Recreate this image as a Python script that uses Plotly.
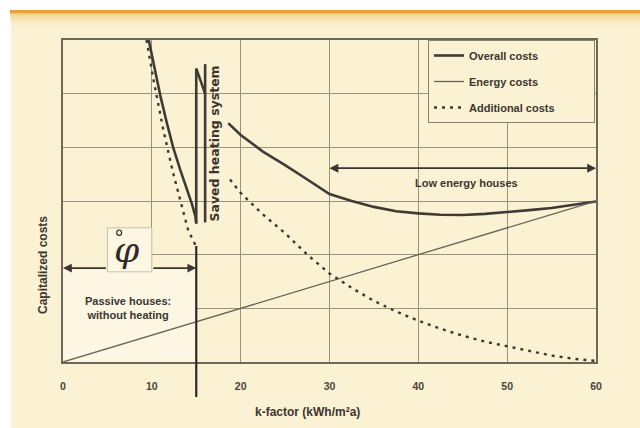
import plotly.graph_objects as go

# ---------------- data ----------------
overall_left_x = [9.65, 10.3, 11.0, 11.7, 12.4, 13.2, 14.0, 14.5, 14.9, 15.0]
overall_left_y = [6.0, 5.45, 4.93, 4.45, 4.0, 3.58, 3.2, 2.95, 2.72, 2.58]
# jump where the heating system is saved ("N" shape)
overall_jump_x = [15.0, 15.0, 16.0, None, 16.0, 16.0]
overall_jump_y = [2.58, 5.47, 5.0, None, 5.55, 2.6]
overall_right_x = [18.6, 20, 22.5, 25, 27.5, 30, 32.5, 35, 37.5, 40, 42.5, 45, 47.5, 50, 52.5, 55, 57.5, 60]
overall_right_y = [4.45, 4.23, 3.92, 3.67, 3.4, 3.13, 3.0, 2.89, 2.81, 2.77, 2.745, 2.74, 2.76, 2.79, 2.83, 2.87, 2.93, 2.99]

energy_x = [0, 60]
energy_y = [0.0, 3.0]

additional_left_x = [9.4, 10.2, 11.3, 12.4, 13.4, 14.1, 14.9]
additional_left_y = [6.0, 5.25, 4.32, 3.52, 2.89, 2.45, 2.18]
additional_right_x = [18.8, 20, 22.5, 25, 27.5, 30, 32.5, 35, 37.5, 40, 42.5, 45, 47.5, 50, 52.5, 55, 57.5, 60]
additional_right_y = [3.4, 3.15, 2.75, 2.4, 2.0, 1.65, 1.38, 1.14, 0.94, 0.77, 0.62, 0.49, 0.38, 0.29, 0.2, 0.12, 0.06, 0.02]

x_ticks = [0, 10, 20, 30, 40, 50, 60]
x_tick_labels = ["0", "10", "20", "30", "40", "50", "60"]
y_grid = [0, 1, 2, 3, 4, 5, 6]

passive_limit = 15
low_energy_start = 30
low_energy_end = 60

# ---------------- styling ----------------
W, H = 640, 428
ML, MR, MT, MB = 63, 44, 40, 66
PW, PH = W - ML - MR, H - MT - MB
BG = "#FBF1D3"
LIGHT = "#FCF6E3"
INK = "#3b3631"
GRID = "#9c937e"
FONT = "Liberation Sans"
NB = "\u00a0"


def px_x(p):
    return (p - ML) / PW


def px_y(p):
    return (H - MB - p) / PH


overall_x = overall_left_x + [None] + overall_jump_x + [None] + overall_right_x
overall_y = overall_left_y + [None] + overall_jump_y + [None] + overall_right_y
additional_x = additional_left_x + [None] + additional_right_x
additional_y = additional_left_y + [None] + additional_right_y

fig = go.Figure()
fig.add_trace(go.Scatter(x=overall_x, y=overall_y, mode="lines", name="Overall costs",
                         legendgroup="a", connectgaps=False,
                         line=dict(color="#403a35", width=2.6)))
fig.add_trace(go.Scatter(x=energy_x, y=energy_y, mode="lines", name="Energy costs",
                         legendgroup="b", line=dict(color="#6a6255", width=1.3)))
fig.add_trace(go.Scatter(x=additional_x, y=additional_y, mode="lines",
                         name="Additional costs" + NB * 11,
                         legendgroup="c", connectgaps=False,
                         line=dict(color="#403a35", width=2.4, dash="3px,5px")))

shapes = []
# page decorations: white left strip / top, orange top bar with fade
shapes.append(dict(type="rect", xref="paper", yref="paper", x0=px_x(0), x1=px_x(11),
                   y0=px_y(H), y1=px_y(0), fillcolor="white", line_width=0, layer="below"))
shapes.append(dict(type="rect", xref="paper", yref="paper", x0=px_x(0), x1=px_x(W),
                   y0=px_y(10), y1=px_y(0), fillcolor="white", line_width=0, layer="below"))
shapes.append(dict(type="rect", xref="paper", yref="paper", x0=px_x(10), x1=px_x(W),
                   y0=px_y(13.5), y1=px_y(10), fillcolor="#E8A23C", line_width=0, layer="below"))
for i, op in enumerate([0.55, 0.4, 0.28, 0.18, 0.1, 0.05]):
    shapes.append(dict(type="rect", xref="paper", yref="paper", x0=px_x(10), x1=px_x(W),
                       y0=px_y(13.5 + 2 * (i + 1)), y1=px_y(13.5 + 2 * i),
                       fillcolor="#EDB85A", opacity=op, line_width=0, layer="below"))
# light box under the passive-house text (covers grid)
shapes.append(dict(type="rect", xref="x", yref="y", x0=0, x1=passive_limit, y0=0, y1=1.72,
                   fillcolor=LIGHT, line_width=0, layer="between"))
shapes.append(dict(type="rect", xref="x", yref="y", x0=0, x1=5.0, y0=1.72, y1=2.3,
                   fillcolor=BG, line_width=0, layer="between"))
# box behind phi
shapes.append(dict(type="rect", xref="x", yref="y", x0=5.0, x1=10.0, y0=1.68, y1=2.5,
                   fillcolor=LIGHT, line=dict(color="#c9c0a8", width=1), layer="between"))
# ring above phi
shapes.append(dict(type="circle", xref="x", yref="y", x0=6.05, x1=6.6, y0=2.36, y1=2.46,
                   line=dict(color="#2f2a26", width=1.2), fillcolor="rgba(0,0,0,0)"))
# separator line at k = 15, extending below the axis
shapes.append(dict(type="line", xref="x", yref="paper", x0=passive_limit, x1=passive_limit,
                   y0=px_y(397), y1=px_y(246), line=dict(color="#2f2a26", width=2.2)))
fig.update_layout(shapes=shapes)

C = dict(xanchor="center", yanchor="middle")
ann = []
# passive-house double arrow (split by phi box)
ann.append(dict(x=0, y=1.75, ax=5.0, ay=1.75, xref="x", yref="y", axref="x", ayref="y",
                text="", showarrow=True, arrowhead=2, arrowsize=1.1, arrowwidth=1.6, arrowcolor=INK))
ann.append(dict(x=passive_limit, y=1.75, ax=10.0, ay=1.75, xref="x", yref="y", axref="x", ayref="y",
                text="", showarrow=True, arrowhead=2, arrowsize=1.1, arrowwidth=1.6, arrowcolor=INK))
# low energy houses double arrow
ann.append(dict(x=low_energy_start, y=3.61, ax=low_energy_end, ay=3.61, xref="x", yref="y",
                axref="x", ayref="y", text="", showarrow=True, arrowhead=2, arrowsize=1.1,
                arrowwidth=1.6, arrowcolor=INK))
ann.append(dict(x=low_energy_end, y=3.61, ax=low_energy_start, ay=3.61, xref="x", yref="y",
                axref="x", ayref="y", text="", showarrow=True, arrowhead=2, arrowsize=1.1,
                arrowwidth=1.6, arrowcolor=INK))
ann.append(dict(x=45.4, y=3.33, xref="x", yref="y", text="<b>Low energy houses</b>", showarrow=False,
                font=dict(family=FONT, size=11, color=INK), **C))
ann.append(dict(x=7.3, y=1.0, xref="x", yref="y", text="<b>Passive houses:<br>without heating</b>",
                showarrow=False, align="center", font=dict(family=FONT, size=11, color=INK), **C))
ann.append(dict(x=17.05, y=4.08, xref="x", yref="y", text="<b>Saved heating system</b>",
                textangle=-90, showarrow=False, font=dict(family="DejaVu Sans", size=12.5, color=INK), **C))
# phi symbol
ann.append(dict(x=7.25, y=2.1, xref="x", yref="y", text="<i>φ</i>", showarrow=False,
                font=dict(family="DejaVu Serif", size=36, color="#2f2a26"), **C))
# axis titles
ann.append(dict(x=px_x(307), y=px_y(412), xref="paper", yref="paper",
                text="<b>k-factor (kWh/m²a)</b>", showarrow=False,
                font=dict(family=FONT, size=12, color=INK), **C))
ann.append(dict(x=px_x(43), y=px_y(265), xref="paper", yref="paper",
                text="<b>Capitalized costs</b>", textangle=-90, showarrow=False,
                font=dict(family=FONT, size=12, color=INK), **C))
fig.update_layout(annotations=ann)

fig.update_xaxes(range=[0, 60], tickvals=x_ticks, ticktext=x_tick_labels,
                 showgrid=True, gridcolor=GRID, gridwidth=1, zeroline=False,
                 showline=True, linecolor="#6f6757", linewidth=1.5, mirror=True,
                 ticks="", ticklabelstandoff=14,
                 tickfont=dict(family=FONT, size=10.5, color="#4a443d", weight="bold"))
fig.update_yaxes(range=[0, 6], tickvals=y_grid, showticklabels=False,
                 showgrid=True, gridcolor=GRID, gridwidth=1, zeroline=False,
                 showline=True, linecolor="#6f6757", linewidth=1.5, mirror=True, ticks="")

fig.update_layout(
    width=W, height=H,
    margin=dict(l=ML, r=MR, t=MT, b=MB),
    paper_bgcolor=BG, plot_bgcolor=BG,
    showlegend=True,
    legend=dict(x=px_x(428), y=1.0, xanchor="left", yanchor="top",
                bgcolor=BG, bordercolor="#8a826f", borderwidth=1,
                tracegroupgap=7,
                font=dict(family=FONT, size=11, color=INK, weight="bold")),
)

fig.write_html("out.html", config={"displayModeBar": False},
               post_script="document.body.style.margin='0px';")
